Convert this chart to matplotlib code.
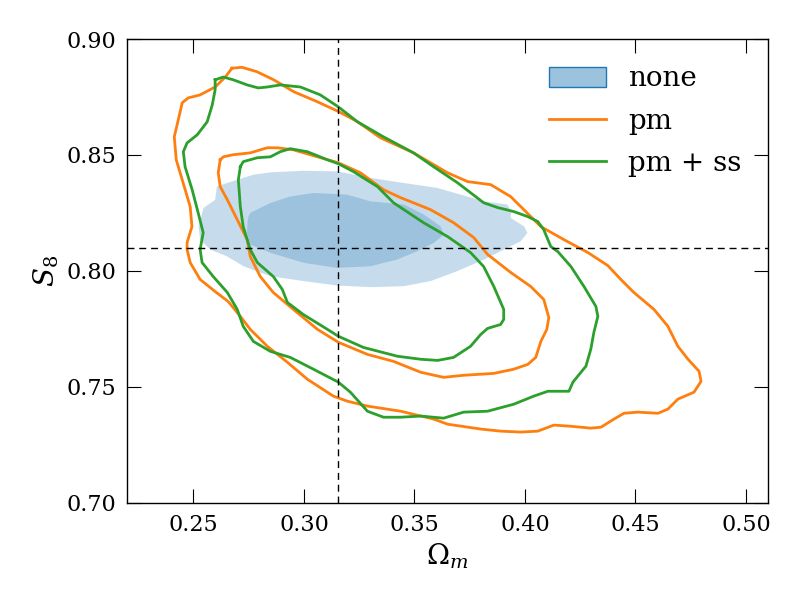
import numpy as np
import matplotlib
matplotlib.use("Agg")
import matplotlib.pyplot as plt
from matplotlib.patches import Patch
from matplotlib.lines import Line2D

# fiducial values
om_fid = 0.3156
s8_fid = 0.81

# "none": filled 68% / 95% regions
none_95_om = [0.2606, 0.2651, 0.2772, 0.2848, 0.2999, 0.3150, 0.3301, 0.3452, 0.3603, 0.3709,
              0.3815, 0.3921, 0.3936, 0.3936, 0.3996, 0.4011, 0.3981, 0.3905, 0.3815, 0.3694,
              0.3573, 0.3452, 0.3301, 0.3150, 0.2999, 0.2848, 0.2727, 0.2651, 0.2576, 0.2530,
              0.2523, 0.2545, 0.2598]
none_95_s8 = [0.8364, 0.8379, 0.8415, 0.8425, 0.8432, 0.8429, 0.8401, 0.8379, 0.8358, 0.8329,
              0.8300, 0.8286, 0.8257, 0.8228, 0.8192, 0.8164, 0.8128, 0.8092, 0.8049, 0.7999,
              0.7956, 0.7934, 0.7930, 0.7937, 0.7956, 0.7977, 0.8020, 0.8063, 0.8092, 0.8135,
              0.8192, 0.8271, 0.8307]
none_68_om = [0.2749, 0.2757, 0.2848, 0.2938, 0.3044, 0.3195, 0.3301, 0.3452, 0.3543, 0.3618,
              0.3633, 0.3588, 0.3513, 0.3422, 0.3301, 0.3150, 0.2999, 0.2848, 0.2757, 0.2742,
              0.2745]
none_68_s8 = [0.8235, 0.8250, 0.8293, 0.8321, 0.8336, 0.8329, 0.8300, 0.8286, 0.8243, 0.8192,
              0.8157, 0.8121, 0.8085, 0.8049, 0.8020, 0.8013, 0.8035, 0.8078, 0.8114, 0.8164,
              0.8213]

# "pm": contour lines
pm_95_om = [0.2674, 0.2719, 0.2787, 0.2863, 0.2953, 0.3059, 0.3157, 0.3241, 0.3346, 0.3496,
            0.3650, 0.3741, 0.3845, 0.3936, 0.3995, 0.4072, 0.4176, 0.4285, 0.4375, 0.4434,
            0.4493, 0.4584, 0.4647, 0.4692, 0.4738, 0.4788, 0.4797, 0.4765, 0.4692, 0.4647,
            0.4602, 0.4511, 0.4448, 0.4403, 0.4344, 0.4298, 0.4208, 0.4131, 0.4058, 0.3981,
            0.3890, 0.3800, 0.3650, 0.3587, 0.3437, 0.3287, 0.3197, 0.3133, 0.3015, 0.2925,
            0.2834, 0.2757, 0.2712, 0.2657, 0.2598, 0.2530, 0.2485, 0.2471, 0.2471, 0.2493,
            0.2485, 0.2449, 0.2422, 0.2413, 0.2431, 0.2449, 0.2476, 0.2530, 0.2598, 0.2644]
pm_95_s8 = [0.8874, 0.8878, 0.8859, 0.8824, 0.8773, 0.8730, 0.8687, 0.8644, 0.8574, 0.8509,
            0.8423, 0.8385, 0.8372, 0.8320, 0.8264, 0.8191, 0.8135, 0.8079, 0.8023, 0.7963,
            0.7907, 0.7834, 0.7761, 0.7675, 0.7619, 0.7567, 0.7524, 0.7477, 0.7447, 0.7404,
            0.7386, 0.7391, 0.7386, 0.7361, 0.7326, 0.7322, 0.7330, 0.7335, 0.7309, 0.7305,
            0.7309, 0.7318, 0.7339, 0.7361, 0.7395, 0.7417, 0.7438, 0.7460, 0.7533, 0.7606,
            0.7675, 0.7748, 0.7804, 0.7868, 0.7911, 0.7963, 0.8036, 0.8092, 0.8122, 0.8191,
            0.8277, 0.8393, 0.8479, 0.8578, 0.8651, 0.8725, 0.8746, 0.8759, 0.8793, 0.8836]
pm_68_om = [0.2621, 0.2635, 0.2680, 0.2757, 0.2834, 0.2879, 0.2952, 0.3061, 0.3156, 0.3256,
            0.3360, 0.3437, 0.3573, 0.3677, 0.3768, 0.3831, 0.3936, 0.4026, 0.4085, 0.4108,
            0.4099, 0.4072, 0.4049, 0.4013, 0.3949, 0.3859, 0.3723, 0.3632, 0.3528, 0.3405,
            0.3287, 0.3156, 0.3061, 0.2952, 0.2861, 0.2802, 0.2757, 0.2743, 0.2698, 0.2653,
            0.2621, 0.2612]
pm_68_s8 = [0.8479, 0.8492, 0.8501, 0.8509, 0.8531, 0.8531, 0.8522, 0.8492, 0.8466, 0.8423,
            0.8350, 0.8316, 0.8264, 0.8208, 0.8144, 0.8071, 0.7993, 0.7933, 0.7877, 0.7799,
            0.7748, 0.7696, 0.7627, 0.7597, 0.7576, 0.7558, 0.7550, 0.7541, 0.7563, 0.7610,
            0.7640, 0.7692, 0.7748, 0.7834, 0.7907, 0.7976, 0.8062, 0.8135, 0.8221, 0.8307,
            0.8363, 0.8423]

# "pm + ss": contour lines
pmss_95_om = [0.2598, 0.2635, 0.2680, 0.2743, 0.2793, 0.2834, 0.2893, 0.2984, 0.3074, 0.3156,
              0.3242, 0.3360, 0.3496, 0.3587, 0.3695, 0.3813, 0.3877, 0.3949, 0.4013, 0.4058,
              0.4085, 0.4117, 0.4149, 0.4208, 0.4267, 0.4321, 0.4330, 0.4312, 0.4298, 0.4276,
              0.4239, 0.4217, 0.4199, 0.4104, 0.4040, 0.3949, 0.3831, 0.3723, 0.3632, 0.3528,
              0.3437, 0.3360, 0.3287, 0.3210, 0.3156, 0.3043, 0.2938, 0.2848, 0.2771, 0.2725,
              0.2698, 0.2653, 0.2589, 0.2539, 0.2530, 0.2544, 0.2521, 0.2494, 0.2462, 0.2454,
              0.2471, 0.2517, 0.2562, 0.2585, 0.2598]
pmss_95_s8 = [0.8824, 0.8836, 0.8824, 0.8802, 0.8789, 0.8793, 0.8802, 0.8793, 0.8759, 0.8707,
              0.8643, 0.8578, 0.8509, 0.8449, 0.8380, 0.8294, 0.8273, 0.8256, 0.8234, 0.8213,
              0.8178, 0.8105, 0.8083, 0.8019, 0.7933, 0.7847, 0.7804, 0.7735, 0.7662, 0.7589,
              0.7546, 0.7520, 0.7481, 0.7481, 0.7460, 0.7425, 0.7395, 0.7391, 0.7365, 0.7374,
              0.7369, 0.7369, 0.7395, 0.7477, 0.7520, 0.7576, 0.7627, 0.7653, 0.7696, 0.7761,
              0.7834, 0.7907, 0.7976, 0.8036, 0.8092, 0.8165, 0.8251, 0.8350, 0.8449, 0.8514,
              0.8552, 0.8587, 0.8643, 0.8716, 0.8781]
pmss_68_om = [0.2712, 0.2725, 0.2789, 0.2848, 0.2893, 0.2938, 0.3015, 0.3106, 0.3156, 0.3224,
              0.3333, 0.3405, 0.3541, 0.3650, 0.3754, 0.3813, 0.3859, 0.3904, 0.3904, 0.3890,
              0.3831, 0.3800, 0.3754, 0.3677, 0.3605, 0.3528, 0.3423, 0.3269, 0.3156, 0.3106,
              0.2997, 0.2925, 0.2902, 0.2861, 0.2789, 0.2757, 0.2725, 0.2712, 0.2703]
pmss_68_s8 = [0.8449, 0.8471, 0.8488, 0.8492, 0.8514, 0.8527, 0.8514, 0.8479, 0.8462, 0.8428,
              0.8363, 0.8294, 0.8208, 0.8148, 0.8079, 0.8019, 0.7933, 0.7834, 0.7791, 0.7769,
              0.7752, 0.7726, 0.7675, 0.7627, 0.7614, 0.7619, 0.7632, 0.7670, 0.7718, 0.7748,
              0.7812, 0.7864, 0.7920, 0.7976, 0.8036, 0.8092, 0.8191, 0.8277, 0.8393]

xticks = [0.25, 0.30, 0.35, 0.40, 0.45, 0.50]
yticks = [0.70, 0.75, 0.80, 0.85, 0.90]


def closed(a):
    return list(a) + [a[0]]


plt.rcParams['font.family'] = ['DejaVu Serif']
plt.rcParams['mathtext.fontset'] = 'dejavuserif'

fig = plt.figure(figsize=(8, 6), dpi=100)
ax = fig.add_axes([0.159, 0.162, 0.801, 0.773])

blue = '#1f77b4'
orange = '#ff7f0e'
green = '#2ca02c'

ax.fill(none_95_om, none_95_s8, color=blue, alpha=0.25, lw=0)
ax.fill(none_68_om, none_68_s8, color=blue, alpha=0.25, lw=0)

for xs, ys in [(pm_95_om, pm_95_s8), (pm_68_om, pm_68_s8)]:
    ax.plot(closed(xs), closed(ys), color=orange, lw=2, solid_joinstyle='round')
for xs, ys in [(pmss_95_om, pmss_95_s8), (pmss_68_om, pmss_68_s8)]:
    ax.plot(closed(xs), closed(ys), color=green, lw=2, solid_joinstyle='round')

ax.axvline(om_fid, color='k', lw=1, ls=(0, (5, 3.5)))
ax.axhline(s8_fid, color='k', lw=1, ls=(0, (5, 3.5)))

ax.set_xlim(0.22, 0.51)
ax.set_ylim(0.70, 0.90)
ax.set_xticks(xticks)
ax.set_yticks(yticks)
ax.set_xticklabels(['%.2f' % v for v in xticks])
ax.set_yticklabels(['%.2f' % v for v in yticks])
ax.tick_params(direction='in', length=10, width=0.8, top=True, right=True,
               labelsize=16, pad=8)
for s in ax.spines.values():
    s.set_linewidth(1.0)

ax.set_xlabel(r'$\Omega_m$', fontsize=20)
ax.set_ylabel(r'$S_8$', fontsize=20)

handles = [Patch(facecolor=(0.122, 0.467, 0.706, 0.44), edgecolor=blue, lw=1),
           Line2D([], [], color=orange, lw=2),
           Line2D([], [], color=green, lw=2)]
ax.legend(handles, ['none', 'pm', 'pm + ss'], loc='upper right', frameon=False,
          fontsize=20, handlelength=2.05, handletextpad=0.8, labelspacing=0.55,
          handleheight=0.72, borderaxespad=0.55)

fig.savefig('out.png', dpi=100)
